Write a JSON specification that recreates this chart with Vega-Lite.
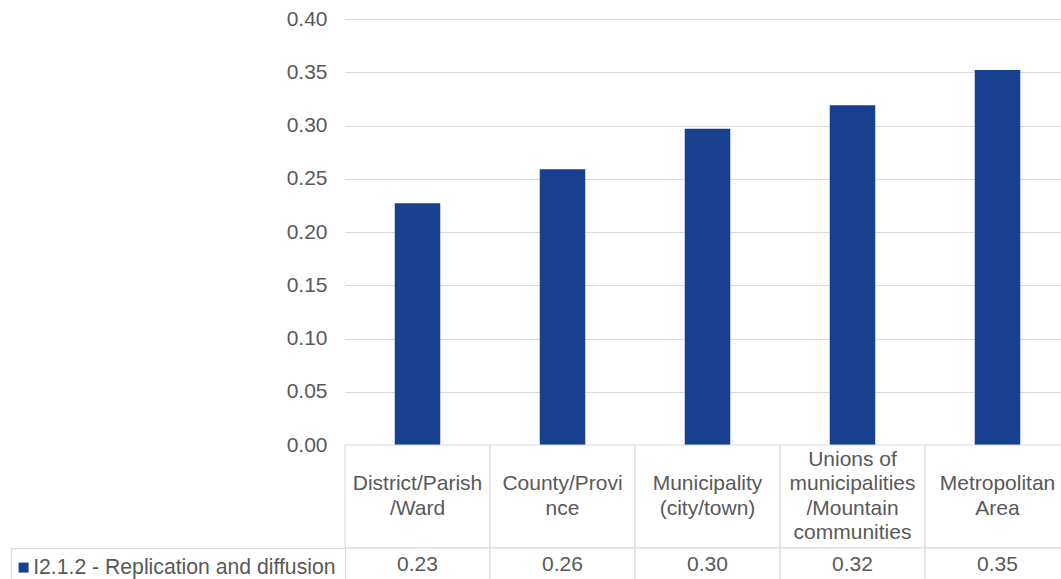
{
  "$schema": "https://vega.github.io/schema/vega-lite/v6.json",
  "background": "white",
  "padding": {"left": 10, "top": 8, "right": 0, "bottom": 0},
  "data": {
    "values": [
      {"category": "District/Parish\n/Ward", "value": 0.227, "series": "I2.1.2 - Replication and diffusion"},
      {"category": "County/Provi\nnce", "value": 0.259, "series": "I2.1.2 - Replication and diffusion"},
      {"category": "Municipality\n(city/town)", "value": 0.297, "series": "I2.1.2 - Replication and diffusion"},
      {"category": "Unions of\nmunicipalities\n/Mountain\ncommunities", "value": 0.319, "series": "I2.1.2 - Replication and diffusion"},
      {"category": "Metropolitan\nArea", "value": 0.352, "series": "I2.1.2 - Replication and diffusion"}
    ]
  },
  "bounds": "flush",
  "spacing": 0,
  "resolve": {
    "scale": {"x": "independent", "y": "independent", "color": "independent"},
    "legend": {"color": "independent"}
  },
  "vconcat": [
    {
      "width": 725,
      "height": 426,
      "mark": {"type": "bar", "color": "#17408F"},
      "encoding": {
        "x": {
          "field": "category",
          "type": "nominal",
          "sort": null,
          "scale": {"paddingInner": 0.686, "paddingOuter": 0.343},
          "axis": null
        },
        "y": {
          "field": "value",
          "type": "quantitative",
          "scale": {"domain": [0, 0.4], "nice": false},
          "axis": {
            "title": null,
            "values": [0, 0.05, 0.1, 0.15, 0.2, 0.25, 0.3, 0.35, 0.4],
            "format": ".2f",
            "domain": false,
            "ticks": false,
            "grid": true,
            "gridColor": "#D9D9D9",
            "gridWidth": 1,
            "labelPadding": 18,
            "labelFontSize": 21,
            "labelColor": "#595959",
            "labelFont": "Liberation Sans"
          }
        }
      }
    },
    {
      "width": 725,
      "height": 103,
      "layer": [
        {
          "mark": {"type": "rect", "fill": "white", "stroke": "#D9D9D9", "strokeWidth": 1},
          "encoding": {
            "x": {"field": "category", "type": "nominal", "sort": null, "scale": {"paddingInner": 0, "paddingOuter": 0}, "axis": null}
          }
        },
        {
          "mark": {
            "type": "text",
            "lineBreak": "\n",
            "lineHeight": 24.5,
            "fontSize": 21,
            "font": "Liberation Sans",
            "color": "#595959",
            "align": "center",
            "baseline": "middle",
            "dy": {"expr": "-(length(split(datum.category, '\\n')) - 1) * 12.25"}
          },
          "encoding": {
            "x": {"field": "category", "type": "nominal", "sort": null, "axis": null},
            "text": {"field": "category"}
          }
        }
      ]
    },
    {
      "width": 725,
      "height": 35,
      "layer": [
        {
          "mark": {"type": "rect", "fill": "white", "stroke": "#D9D9D9", "strokeWidth": 1},
          "encoding": {
            "x": {"field": "category", "type": "nominal", "sort": null, "scale": {"paddingInner": 0, "paddingOuter": 0}, "axis": null}
          }
        },
        {
          "mark": {"type": "text", "fontSize": 21, "font": "Liberation Sans", "align": "center", "baseline": "middle", "dy": -1, "color": "#595959"},
          "encoding": {
            "x": {"field": "category", "type": "nominal", "sort": null, "axis": null},
            "text": {"field": "value", "type": "quantitative", "format": ".2f"}
          }
        },
        {
          "mark": {"type": "square", "opacity": 0, "size": 100},
          "encoding": {
            "x": {"field": "category", "type": "nominal", "sort": null, "axis": null},
            "color": {
              "field": "series",
              "type": "nominal",
              "scale": {"range": ["#17408F"]},
              "legend": {
                "orient": "left",
                "offset": 0,
                "title": null,
                "padding": 9,
                "strokeColor": "#D9D9D9",
                "fillColor": "white",
                "symbolType": "square",
                "symbolSize": 100,
                "symbolOpacity": 1,
                "symbolStrokeWidth": 0,
                "symbolOffset": -7,
                "labelOffset": -1,
                "labelFontSize": 21.2,
                "labelFont": "Liberation Sans",
                "labelColor": "#595959",
                "labelLimit": 0
              }
            }
          }
        }
      ]
    }
  ],
  "config": {
    "view": {"stroke": null},
    "font": "Liberation Sans"
  }
}
